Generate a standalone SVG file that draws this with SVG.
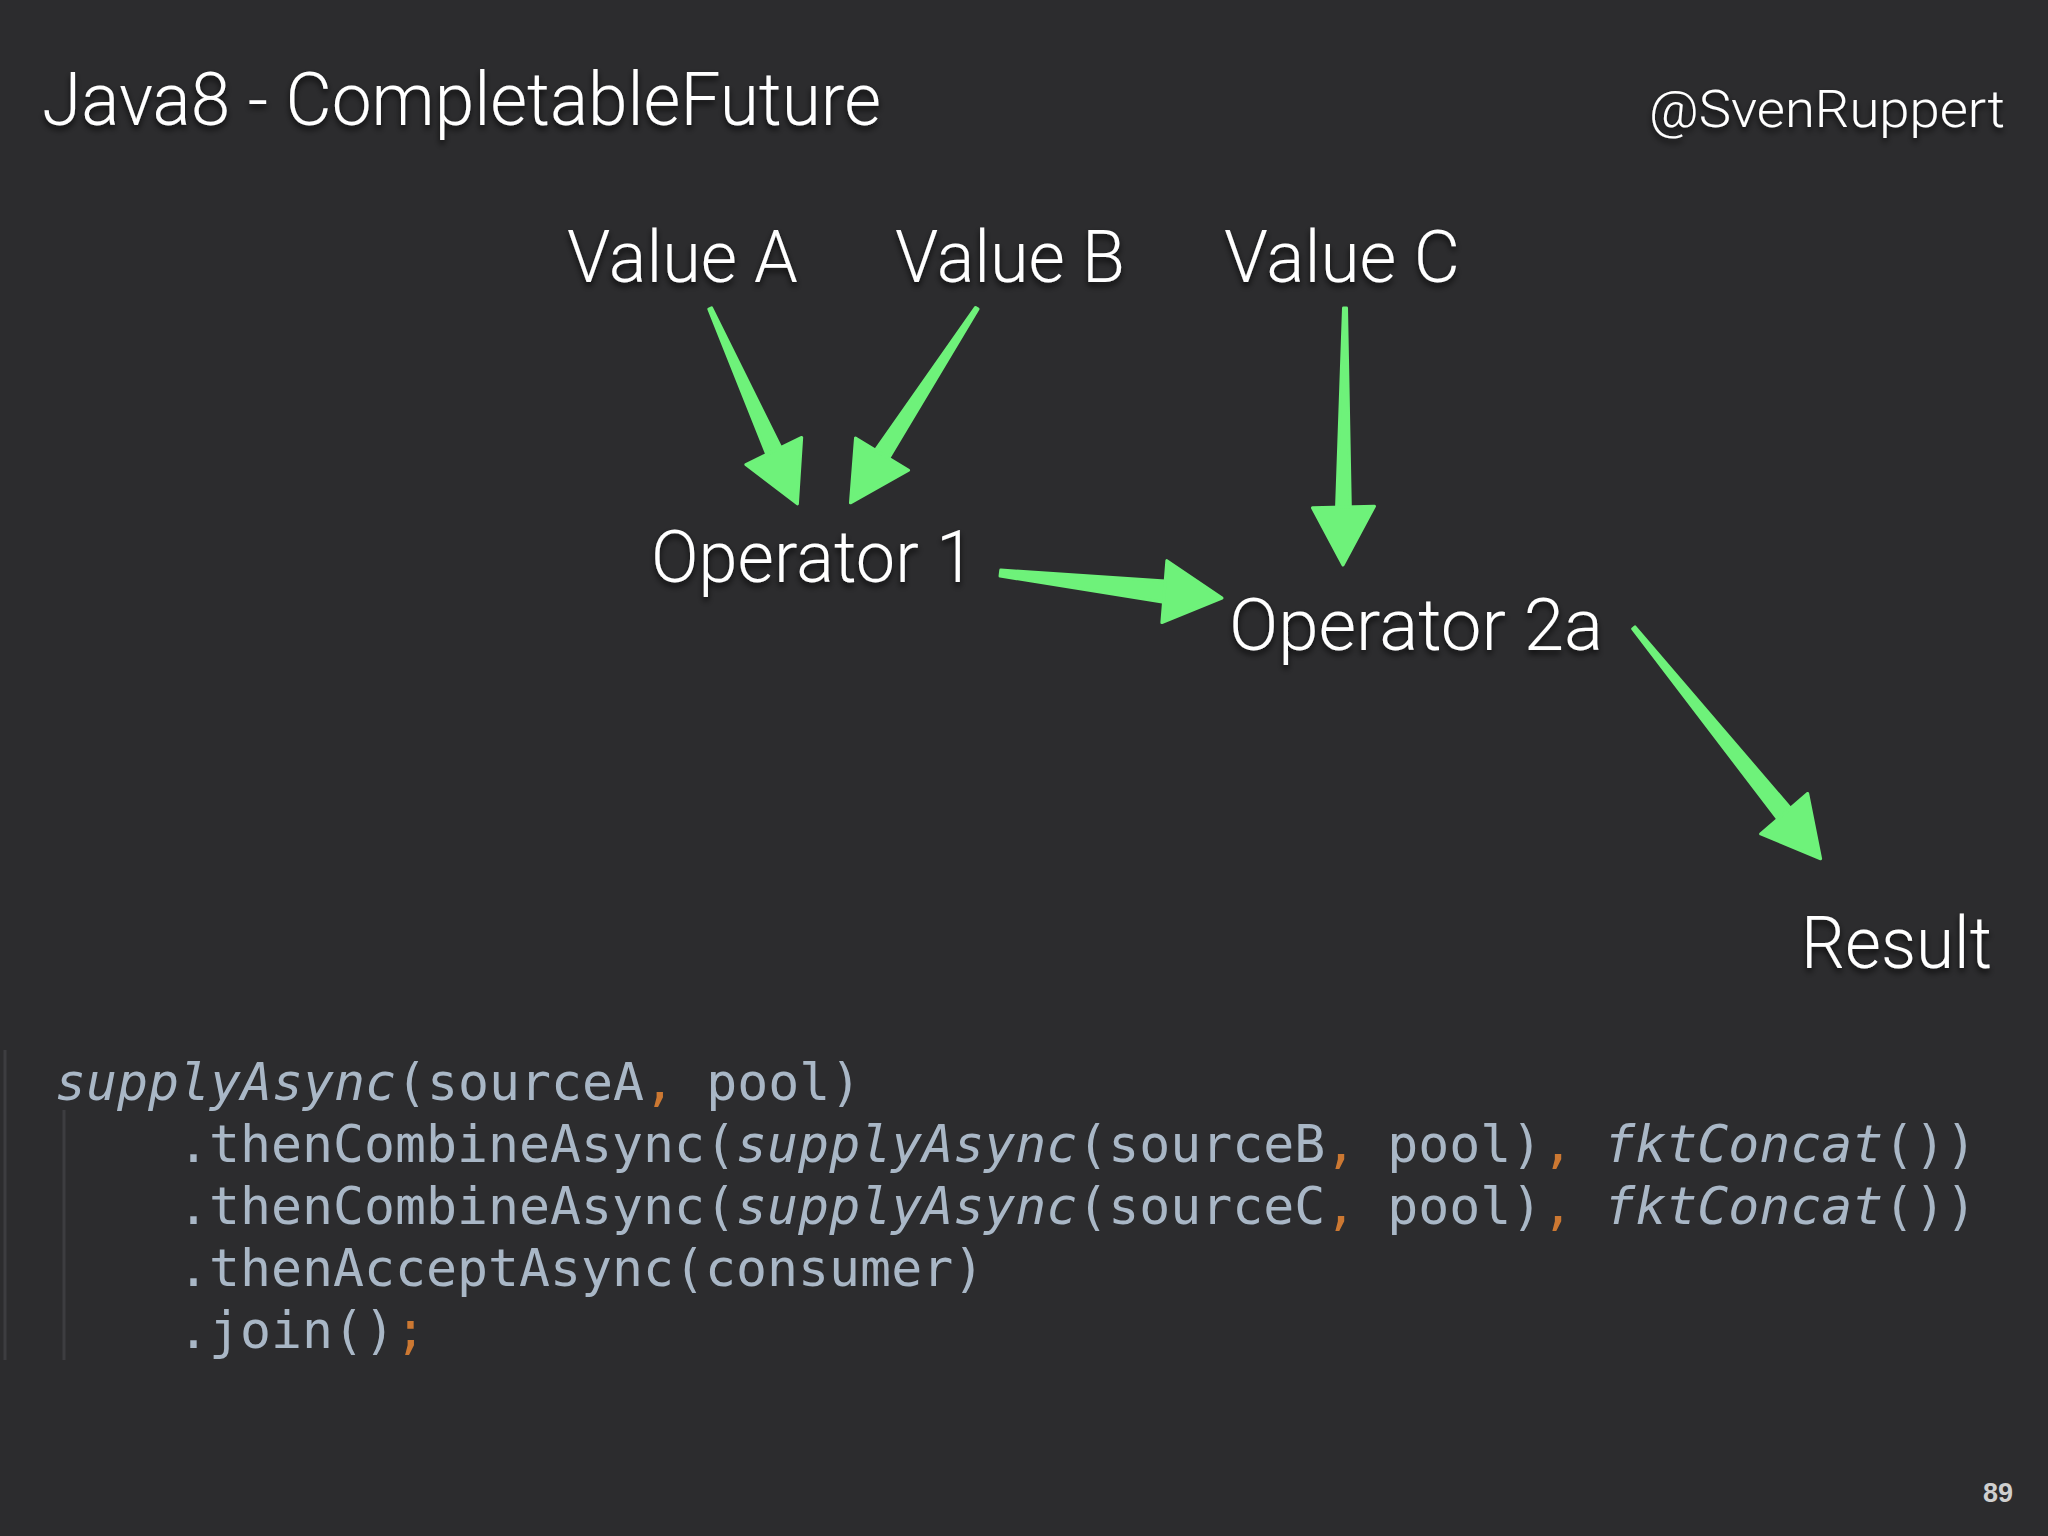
<svg xmlns="http://www.w3.org/2000/svg" width="2048" height="1536" viewBox="0 0 2048 1536">
  <style>
    .lbl { font-family: Roboto, "Liberation Sans", sans-serif; font-weight: 300; fill: #ffffff; filter: url(#sh); }
    .node { font-size: 72px; }
    .code { font-family: "DejaVu Sans Mono", "Liberation Mono", monospace; font-size: 51.5px; fill: #a9b7c6; }
    .it { font-style: italic; }
    .or { fill: #cc7832; }
    .arrow { fill: #6ef27a; stroke: #6ef27a; stroke-width: 3; stroke-linejoin: round; }
    .guide { stroke: #3d3d40; stroke-width: 3; }
  </style>
  <defs>
    <filter id="sh" x="-10%" y="-20%" width="120%" height="160%">
      <feDropShadow dx="0" dy="4" stdDeviation="3" flood-color="#000" flood-opacity="0.75"/>
    </filter>
    <path id="head" d="M 1,0 L -58,-31 L -56,31 Z"/>
  </defs>
  <rect width="2048" height="1536" fill="#2c2c2e"/>

  <g id="title">
    <text class="lbl" x="42" y="125" font-size="74" textLength="839" lengthAdjust="spacingAndGlyphs">Java8 - CompletableFuture</text>
  </g>
  <g id="author">
    <text class="lbl" x="1649" y="127" font-size="52" textLength="356" lengthAdjust="spacingAndGlyphs">@SvenRuppert</text>
  </g>

  <g id="value-a"><text class="lbl node" x="567" y="282" textLength="231" lengthAdjust="spacingAndGlyphs">Value A</text></g>
  <g id="value-b"><text class="lbl node" x="895" y="282" textLength="230" lengthAdjust="spacingAndGlyphs">Value B</text></g>
  <g id="value-c"><text class="lbl node" x="1224" y="282" textLength="236" lengthAdjust="spacingAndGlyphs">Value C</text></g>
  <g id="operator-1"><text class="lbl node" x="651" y="582" textLength="324" lengthAdjust="spacingAndGlyphs">Operator 1</text></g>
  <g id="operator-2a"><text class="lbl node" x="1229" y="650" textLength="374" lengthAdjust="spacingAndGlyphs">Operator 2a</text></g>
  <g id="result"><text class="lbl node" x="1801" y="968" textLength="191" lengthAdjust="spacingAndGlyphs">Result</text></g>

  <g id="connectors" class="arrow">
    <g transform="translate(797,503) rotate(65.96)">
      <path d="M -213,-1.5 L -52,-8 L -52,8 L -213,1.5 Z"/>
      <use href="#head"/>
    </g>
    <g transform="translate(851,502) rotate(123)">
      <path d="M -231,-1.5 L -52,-8 L -52,8 L -231,1.5 Z"/>
      <use href="#head"/>
    </g>
    <g transform="translate(1343,564) rotate(90.45)">
      <path d="M -256,-1.5 L -52,-7 L -52,7 L -256,1.5 Z"/>
      <use href="#head"/>
    </g>
    <g transform="translate(1221,598) rotate(6.45)">
      <path d="M -222,-3 L -50,-11 L -50,11 L -222,3 Z"/>
      <use href="#head"/>
    </g>
    <g transform="translate(1820,858) rotate(51.03)">
      <path d="M -296,-1.5 L -52,-8.5 L -52,8.5 L -296,1.5 Z"/>
      <use href="#head"/>
    </g>
  </g>

  <g id="code">
    <line class="guide" x1="5" y1="1050" x2="5" y2="1360"/>
    <line class="guide" x1="64" y1="1110" x2="64" y2="1360"/>
    <text class="code" x="55" y="1100"><tspan class="it">supplyAsync</tspan>(sourceA<tspan class="or">,</tspan> pool)</text>
    <text class="code" x="178" y="1162">.thenCombineAsync(<tspan class="it">supplyAsync</tspan>(sourceB<tspan class="or">,</tspan> pool)<tspan class="or">,</tspan> <tspan class="it">fktConcat</tspan>())</text>
    <text class="code" x="178" y="1224">.thenCombineAsync(<tspan class="it">supplyAsync</tspan>(sourceC<tspan class="or">,</tspan> pool)<tspan class="or">,</tspan> <tspan class="it">fktConcat</tspan>())</text>
    <text class="code" x="178" y="1286">.thenAcceptAsync(consumer)</text>
    <text class="code" x="178" y="1348">.join()<tspan class="or">;</tspan></text>
  </g>

  <g id="page-number">
    <text x="1983" y="1502" font-family="'Liberation Sans', Arial, sans-serif" font-weight="bold" font-size="27" fill="#cfcfcf">89</text>
  </g>
</svg>
